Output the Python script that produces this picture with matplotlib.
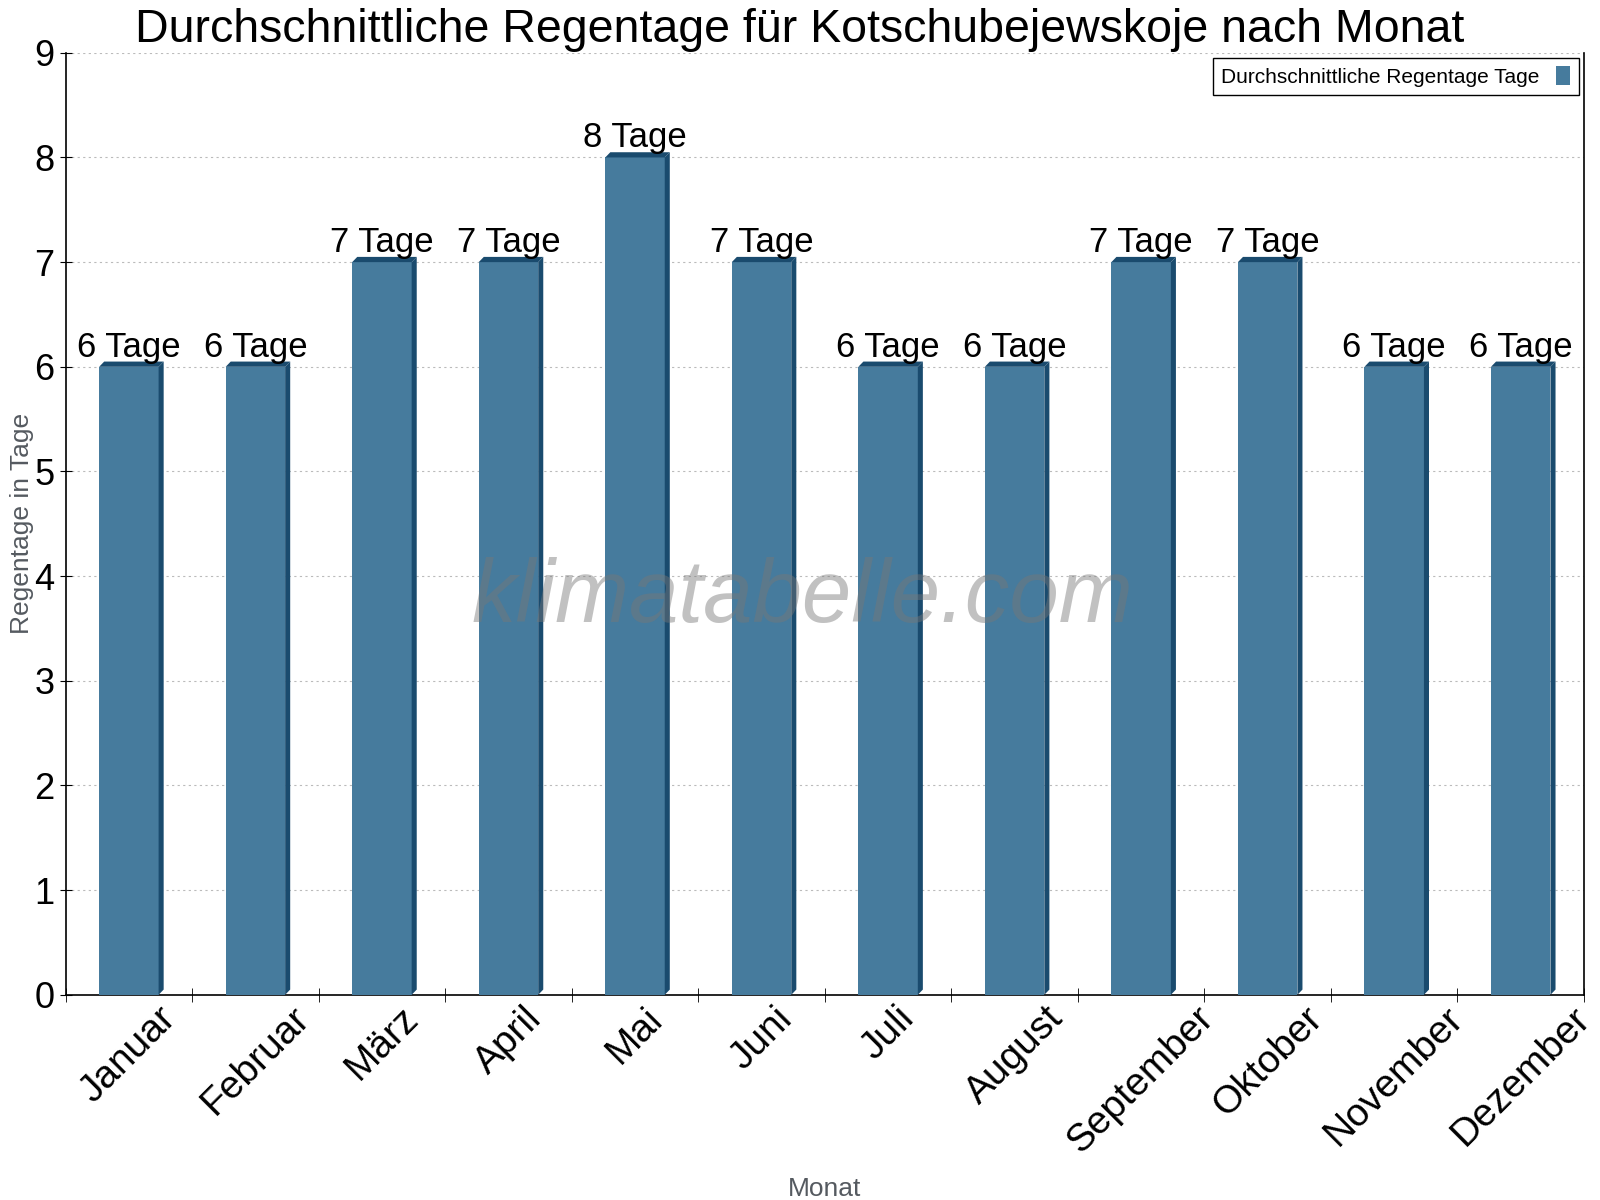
import numpy as np
import matplotlib
matplotlib.use('Agg')
import matplotlib.pyplot as plt
from matplotlib.patches import Polygon

plt.rcParams['font.family'] = ['Liberation Sans', 'DejaVu Sans']

months = ['Januar', 'Februar', 'März', 'April', 'Mai', 'Juni', 'Juli',
          'August', 'September', 'Oktober', 'November', 'Dezember']
rain_days = [6, 6, 7, 7, 8, 7, 6, 6, 7, 7, 6, 6]

FRONT = '#467b9d'
SIDE = '#1a4b6e'
DX, DY = 0.04, 0.05

fig = plt.figure(figsize=(16, 12), dpi=100)
ax = fig.add_axes([0.041, 0.171, 0.949, 0.785])

x = np.arange(len(months))
bars = ax.bar(x, rain_days, width=0.47, color=FRONT, zorder=3,
              label='Durchschnittliche Regentage Tage')

# fake 3D side and top
for b in bars:
    x0, w, h = b.get_x(), b.get_width(), b.get_height()
    x1 = x0 + w
    side = Polygon([(x1, 0), (x1 + DX, DY), (x1 + DX, h + DY), (x1, h)],
                   closed=True, facecolor=SIDE, edgecolor='none', zorder=3)
    top = Polygon([(x0, h), (x0 + DX, h + DY), (x1 + DX, h + DY), (x1, h)],
                  closed=True, facecolor=SIDE, edgecolor='none', zorder=3)
    ax.add_patch(side)
    ax.add_patch(top)
    ax.text(b.get_x() + w / 2, h + DY - 0.02, f'{h:g} Tage',
            ha='center', va='bottom', fontsize=25, color='black', zorder=4)

ax.set_xlim(-0.5, len(months) - 0.5)
ax.set_ylim(0, 9)
ax.set_yticks(range(10))
ax.tick_params(axis='y', labelsize=26, direction='inout', length=8, pad=4)

ax.set_xticks(x)
ax.set_xticklabels(months, rotation=45, ha='center', fontsize=28)
ax.set_xticks(np.arange(-0.5, len(months)), minor=True)
ax.tick_params(axis='x', which='major', length=0, pad=4)
ax.tick_params(axis='x', which='minor', direction='inout', length=10)

ax.grid(axis='y', linestyle=(0, (2, 3)), color='#bbbbbb', linewidth=0.8, zorder=0)
ax.set_axisbelow(True)
ax.spines['top'].set_visible(False)
for s in ('left', 'bottom', 'right'):
    ax.spines[s].set_color('black')
    ax.spines[s].set_linewidth(1.2)

ax.set_ylabel('Regentage in Tage', fontsize=19, color='#555a60')
ax.yaxis.set_label_coords(-0.021, 0.5)
ax.set_xlabel('Monat', fontsize=19, color='#555a60', labelpad=12)
ax.set_title('Durchschnittliche Regentage für Kotschubejewskoje nach Monat',
             fontsize=33.5, pad=8, x=0.4837)

ax.text(0.485, 0.42, 'klimatabelle.com', transform=ax.transAxes, fontsize=64,
        style='italic', color='#777777', alpha=0.45, ha='center', va='center',
        zorder=5)

leg = ax.legend(loc='upper right', fontsize=15, markerfirst=False,
                fancybox=False, framealpha=1, edgecolor='black',
                handlelength=0.7, handleheight=1.0, borderaxespad=0.25)
leg.get_frame().set_linewidth(1.0)

fig.savefig('out.png', dpi=100, facecolor='white')
